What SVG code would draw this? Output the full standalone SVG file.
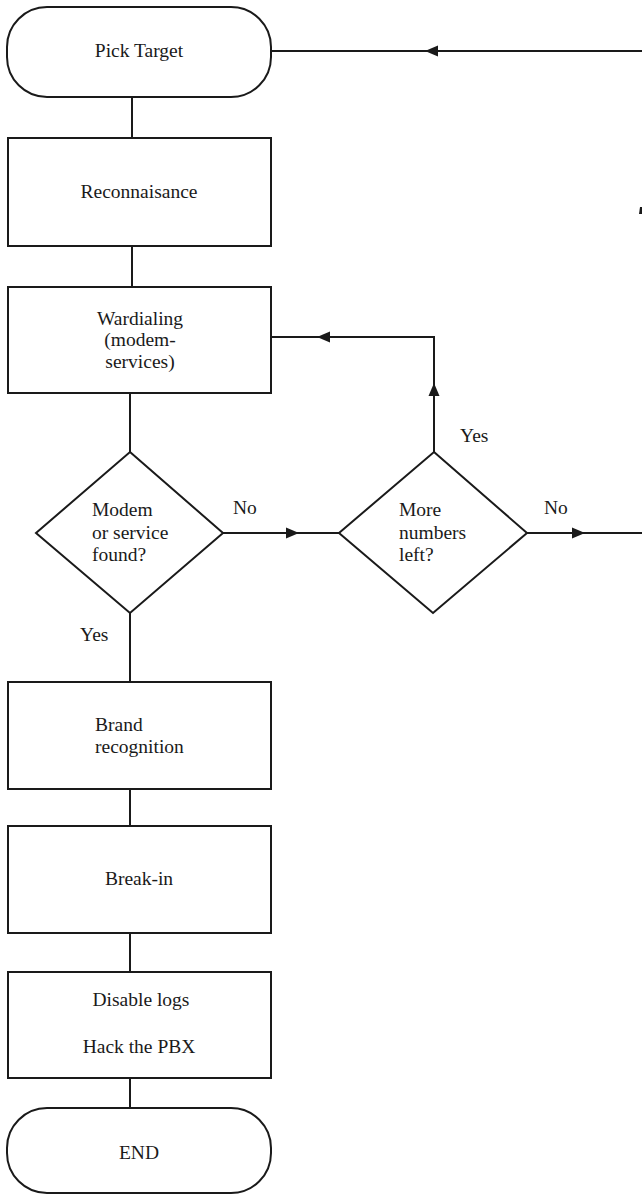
<svg xmlns="http://www.w3.org/2000/svg" width="642" height="1195" viewBox="0 0 642 1195">
<style>
.box{fill:#fff;stroke:#1a1a1a;stroke-width:2}
.ln{fill:none;stroke:#1a1a1a;stroke-width:2}
.t{font-family:"Liberation Serif","Times New Roman",serif;font-size:19.5px;fill:#1a1a1a}
.c{text-anchor:middle}
.ah{fill:#1a1a1a}
</style>
<defs>
<path id="ah" d="M0,0 L-13,-5.5 L-13,5.5 Z"/>
</defs>
<rect width="642" height="1195" fill="#fff"/>
<g id="connectors">
<path class="ln" d="M132,97 V138"/>
<path class="ln" d="M132,246 V287"/>
<path class="ln" d="M130,393 V452"/>
<path class="ln" d="M223,533 H339"/>
<use href="#ah" class="ah" transform="translate(299,533)"/>
<path class="ln" d="M527,533 H642"/>
<use href="#ah" class="ah" transform="translate(585,533)"/>
<path class="ln" d="M434,452 V337 H271"/>
<use href="#ah" class="ah" transform="translate(434,383) rotate(-90)"/>
<use href="#ah" class="ah" transform="translate(317,337) rotate(180)"/>
<path class="ln" d="M271,51 H642"/>
<use href="#ah" class="ah" transform="translate(425,51) rotate(180)"/>
<path class="ah" d="M640,207 L642,207 L642,214 L639,214 Z"/>
<path class="ln" d="M130,613 V682"/>
<path class="ln" d="M130,789 V826"/>
<path class="ln" d="M130,933 V972"/>
<path class="ln" d="M130,1078 V1108"/>
<text class="t" x="233" y="514">No</text>
<text class="t" x="544" y="514">No</text>
<text class="t" x="460" y="442">Yes</text>
<text class="t" x="80" y="641">Yes</text>
</g>
<g id="pick-target">
<rect class="box" x="7" y="7" width="264" height="90" rx="40" ry="40"/>
<text class="t c" x="139" y="57">Pick Target</text>
</g>
<g id="reconnaisance">
<rect class="box" x="8" y="138" width="263" height="108"/>
<text class="t c" x="139" y="198">Reconnaisance</text>
</g>
<g id="wardialing">
<rect class="box" x="8" y="287" width="263" height="106"/>
<text class="t c" x="140" y="325">Wardialing</text>
<text class="t c" x="140" y="346">(modem-</text>
<text class="t c" x="140" y="368">services)</text>
</g>
<g id="modem-found">
<polygon class="box" points="130,452 223,533 130,613 36,533"/>
<text class="t" x="92" y="516">Modem</text>
<text class="t" x="92" y="539">or service</text>
<text class="t" x="92" y="561">found?</text>
</g>
<g id="more-numbers">
<polygon class="box" points="434,452 527,533 433,613 339,533"/>
<text class="t" x="399" y="516">More</text>
<text class="t" x="399" y="539">numbers</text>
<text class="t" x="399" y="561">left?</text>
</g>
<g id="brand">
<rect class="box" x="8" y="682" width="263" height="107"/>
<text class="t" x="95" y="731">Brand</text>
<text class="t" x="95" y="753">recognition</text>
</g>
<g id="break-in">
<rect class="box" x="8" y="826" width="263" height="107"/>
<text class="t c" x="139" y="885">Break-in</text>
</g>
<g id="disable">
<rect class="box" x="8" y="972" width="263" height="106"/>
<text class="t c" x="141" y="1006">Disable logs</text>
<text class="t c" x="139" y="1053">Hack the PBX</text>
</g>
<g id="end">
<rect class="box" x="7" y="1108" width="264" height="85" rx="40" ry="40"/>
<text class="t c" x="139" y="1159">END</text>
</g>
</svg>
